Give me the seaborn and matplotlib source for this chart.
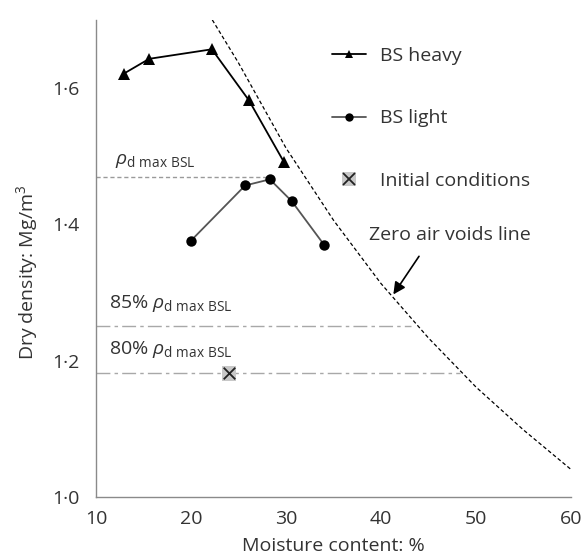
import matplotlib
matplotlib.use("Agg")
import matplotlib.pyplot as plt
from matplotlib.lines import Line2D
from matplotlib.ticker import FixedLocator, FuncFormatter
import seaborn as sns
import pandas as pd

# ---- data ----
heavy_w = [12.9, 15.6, 22.2, 26.1, 29.8]
heavy_rho = [1.621, 1.643, 1.657, 1.582, 1.491]

light_w = [20.0, 25.7, 28.3, 30.6, 34.0]
light_rho = [1.376, 1.457, 1.466, 1.434, 1.370]

initial_w = [24.0]
initial_rho = [1.181]

zav_w = [21.9, 25.0, 30.0, 35.0, 40.0, 45.0, 50.0, 55.0, 60.0]
zav_rho = [1.708, 1.637, 1.512, 1.406, 1.313, 1.233, 1.161, 1.098, 1.040]

rho_max = 1.47
rho_max_end = 28.3
rho85 = 1.251
rho85_end = 43.2
rho80 = 1.182
rho80_end = 48.3

y_major = [1.0, 1.2, 1.4, 1.6]
x_major = [10, 20, 30, 40, 50, 60]

# ---- style ----
sns.set_theme(style="white")
plt.rcParams["font.family"] = ["Open Sans", "DejaVu Sans"]
plt.rcParams["mathtext.fontset"] = "custom"
plt.rcParams["mathtext.rm"] = "Open Sans"
plt.rcParams["mathtext.it"] = "Open Sans:italic"
plt.rcParams["mathtext.bf"] = "Open Sans:bold"

TXT = "#333333"
SPINE = "#8a8a8a"
FS = 14

fig = plt.figure(figsize=(5.82, 5.59), dpi=100)
W, H = 582, 559
ax = fig.add_axes([96 / W, 1 - 496.7 / H, (571 - 96) / W, (496.7 - 20) / H])

# zero air voids line
sns.lineplot(x=zav_w, y=zav_rho, ax=ax, color="black", lw=0.9,
             linestyle=(0, (3, 2)), sort=False, legend=False)

# reference horizontal lines
sns.lineplot(x=[10, rho_max_end], y=[rho_max, rho_max], ax=ax, color="#9a9a9a",
             lw=1.0, linestyle=(0, (3, 2)), legend=False)
sns.lineplot(x=[10, rho85_end], y=[rho85, rho85], ax=ax, color="#a8a8a8",
             lw=1.0, linestyle=(0, (10, 3, 2.5, 3)), legend=False)
sns.lineplot(x=[10, rho80_end], y=[rho80, rho80], ax=ax, color="#a8a8a8",
             lw=1.0, linestyle=(0, (10, 3, 2.5, 3)), legend=False)

# compaction curves
sns.lineplot(x=heavy_w, y=heavy_rho, ax=ax, color="black", lw=1.3, sort=False,
             marker="^", markersize=8.5, markeredgewidth=0, legend=False)
sns.lineplot(x=light_w, y=light_rho, ax=ax, color="#555555", lw=1.3, sort=False,
             marker="o", markersize=7.5, markerfacecolor="black",
             markeredgewidth=0, legend=False)

# initial conditions
sns.scatterplot(x=initial_w, y=initial_rho, ax=ax, marker="s", s=110,
                color="#c8c8c8", edgecolor="none", legend=False, zorder=4)
sns.scatterplot(x=initial_w, y=initial_rho, ax=ax, marker="x", s=70,
                color="#222222", linewidth=1.3, legend=False, zorder=5)

# axes
ax.set_xlim(10, 60)
ax.set_ylim(1.0, 1.70)
for s in ["top", "right"]:
    ax.spines[s].set_visible(False)
for s in ["left", "bottom"]:
    ax.spines[s].set_color(SPINE)
    ax.spines[s].set_linewidth(1.0)

ax.xaxis.set_major_locator(FixedLocator(x_major))
ax.xaxis.set_minor_locator(FixedLocator([v for v in range(10, 61, 2)]))
ax.yaxis.set_major_locator(FixedLocator(y_major))
ax.yaxis.set_minor_locator(FixedLocator([1.0 + 0.05 * i for i in range(15)]))
ax.yaxis.set_major_formatter(FuncFormatter(lambda v, p: f"{v:.1f}".replace(".", "\u00b7")))

ax.tick_params(axis="both", which="both", direction="out", color=SPINE,
               labelcolor=TXT, labelsize=FS, width=1.0)
ax.tick_params(axis="y", which="major", length=5, pad=7)
ax.tick_params(axis="y", which="minor", length=5)
ax.tick_params(axis="x", which="major", length=5.8, pad=4)
ax.tick_params(axis="x", which="minor", length=3.6)

ax.set_xlabel("Moisture content: %", fontsize=FS, color=TXT, labelpad=6)
ax.set_ylabel("Dry density: Mg/m$^3$", fontsize=FS, color=TXT)
ax.yaxis.set_label_coords(-0.118, 0.471)

# annotations
rho_lbl = r"$\rho_{\mathrm{d\ max\ BSL}}$"
ax.text(12.0, 1.489, rho_lbl, fontsize=FS, color=TXT, va="baseline", ha="left")
ax.text(11.4, 1.277, "85% " + rho_lbl, fontsize=FS, color=TXT, va="baseline", ha="left")
ax.text(11.4, 1.210, "80% " + rho_lbl, fontsize=FS, color=TXT, va="baseline", ha="left")

ax.text(38.7, 1.385, "Zero air voids line", fontsize=FS, color=TXT, va="center", ha="left")
ax.annotate("", xy=(41.3, 1.297), xytext=(44.0, 1.353),
            arrowprops=dict(arrowstyle="-|>", color="black", lw=1.2,
                            mutation_scale=18, shrinkA=0, shrinkB=0))

# legend
h_heavy = Line2D([], [], color="black", lw=1.3, marker="^", markersize=6, markeredgewidth=0)
h_light = Line2D([], [], color="#555555", lw=1.3, marker="o", markersize=6,
                 markerfacecolor="black", markeredgewidth=0)
h_sq = Line2D([], [], ls="none", marker="s", markersize=10, color="#c8c8c8", markeredgewidth=0)
h_x = Line2D([], [], ls="none", marker="x", markersize=8, color="#222222", markeredgewidth=1.3)
leg = ax.legend([h_heavy, h_light, (h_sq, h_x)], ["BS heavy", "BS light", "Initial conditions"],
                loc="upper left", bbox_to_anchor=(322 / W, 1 - 37 / H),
                bbox_transform=fig.transFigure, frameon=False, borderpad=0,
                labelspacing=2.3, handlelength=1.75, handletextpad=0.75,
                fontsize=FS, labelcolor=TXT)

fig.savefig("out.png", dpi=100)
